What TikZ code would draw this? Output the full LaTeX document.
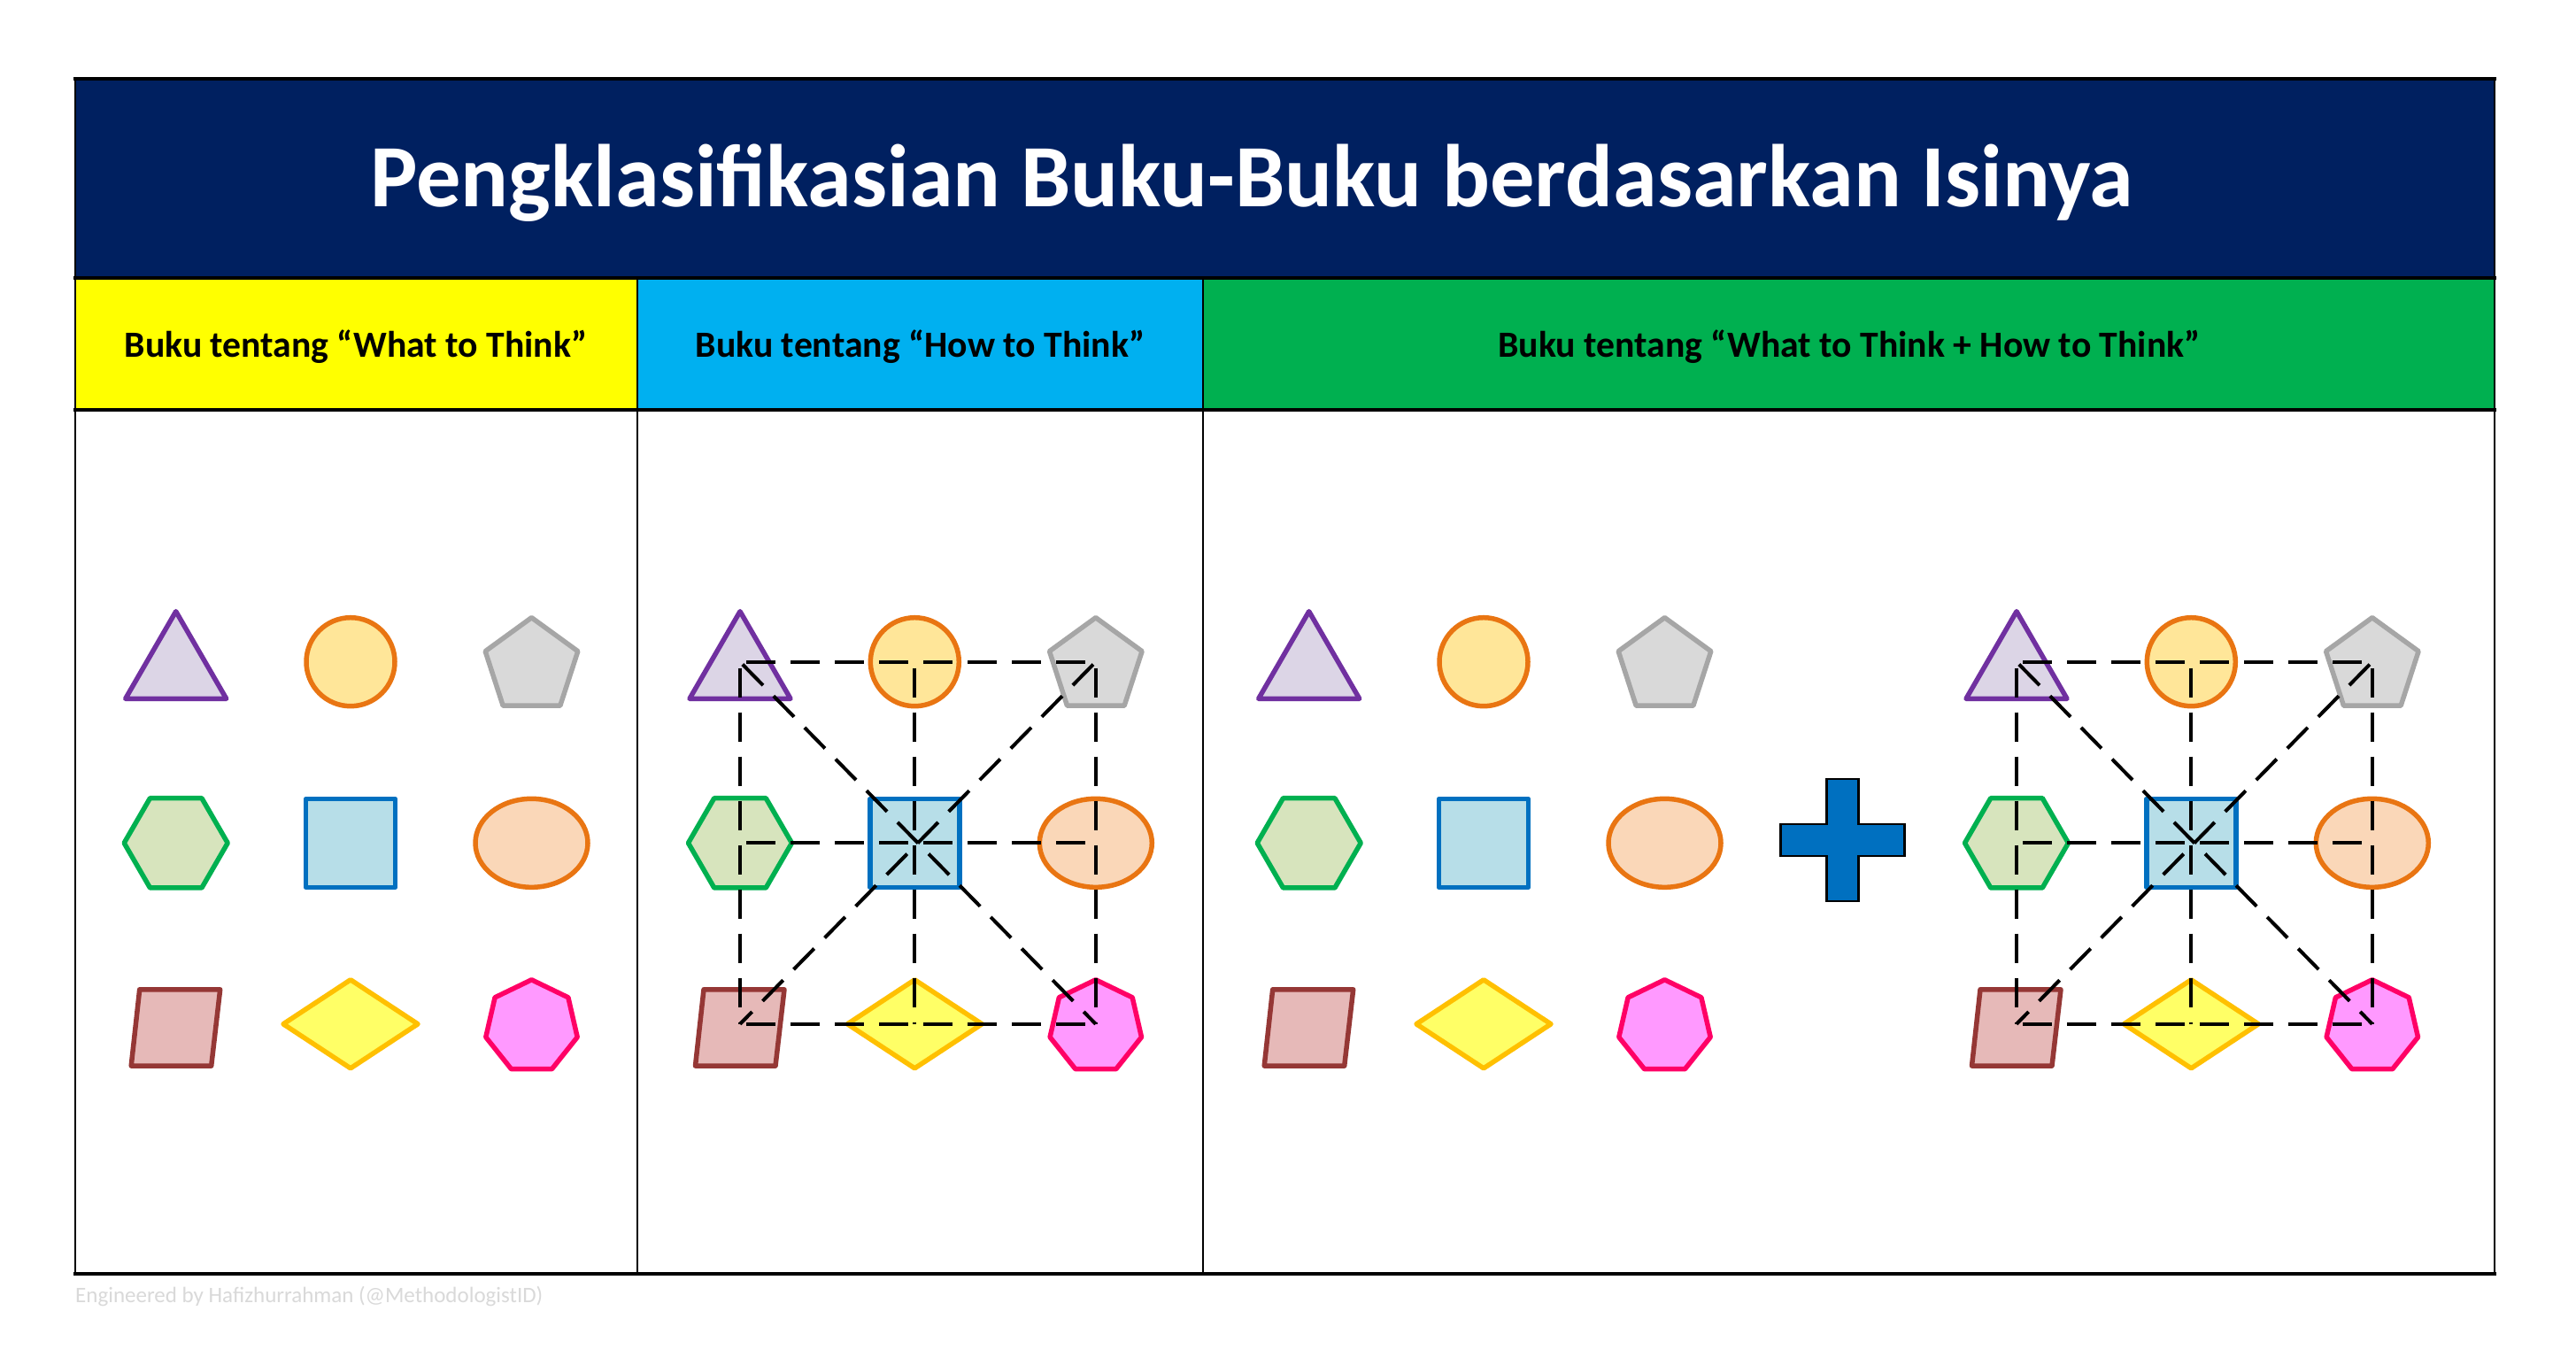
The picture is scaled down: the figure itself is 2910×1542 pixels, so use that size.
\documentclass[tikz,border=0pt]{standalone}
\usepackage{fontspec}
\setmainfont{Carlito}
\usetikzlibrary{calc}
\definecolor{navy}{HTML}{002060}
\definecolor{hyellow}{HTML}{FFFF00}
\definecolor{hblue}{HTML}{00B0F0}
\definecolor{hgreen}{HTML}{00B050}
\definecolor{triD}{HTML}{7030A0}
\definecolor{triF}{HTML}{DCD5E6}
\definecolor{cirD}{HTML}{E97512}
\definecolor{cirF}{HTML}{FFE699}
\definecolor{penD}{HTML}{A6A6A6}
\definecolor{penF}{HTML}{D9D9D9}
\definecolor{hexD}{HTML}{00B050}
\definecolor{hexF}{HTML}{D7E4BD}
\definecolor{sqD}{HTML}{0070C0}
\definecolor{sqF}{HTML}{B7DEE8}
\definecolor{ellF}{HTML}{FAD7B8}
\definecolor{parD}{HTML}{953735}
\definecolor{parF}{HTML}{E6B9B8}
\definecolor{diaD}{HTML}{FFC000}
\definecolor{diaF}{HTML}{FFFF66}
\definecolor{hepD}{HTML}{FF0066}
\definecolor{hepF}{HTML}{FF99FF}
\definecolor{plusF}{HTML}{0070C0}
\definecolor{footgray}{HTML}{D9D9D9}

\newcommand{\shapeset}[2]{%
  \coordinate (#1a) at ({198.7+#2},747.7);
  \coordinate (#1b) at ({396+#2},747.7);
  \coordinate (#1c) at ({600.5+#2},747.7);
  \coordinate (#1d) at ({198.7+#2},952.3);
  \coordinate (#1e) at ({396+#2},952.3);
  \coordinate (#1f) at ({600.5+#2},952.3);
  \coordinate (#1g) at ({198.7+#2},1156.8);
  \coordinate (#1h) at ({396+#2},1156.8);
  \coordinate (#1i) at ({600.5+#2},1156.8);
  \draw[shp, draw=triD, fill=triF, shift={(#1a)}] (0,-57) -- (-57,41.6) -- (57,41.6) -- cycle;
  \draw[shp, draw=cirD, fill=cirF, shift={(#1b)}] (0,0) circle [radius=50pt];
  \draw[shp, draw=penD, fill=penF, shift={(#1c)}] (0,-50) -- (52.3,-12) -- (32.3,49.5) -- (-32.3,49.5) -- (-52.3,-12) -- cycle;
  \draw[shp, draw=hexD, fill=hexF, shift={(#1d)}] (-58.5,0) -- (-29.25,-50.6) -- (29.25,-50.6) -- (58.5,0) -- (29.25,50.6) -- (-29.25,50.6) -- cycle;
  \draw[shp, draw=sqD, fill=sqF, shift={(#1e)}] (-50.5,-50) rectangle (50.5,50);
  \draw[shp, draw=cirD, fill=ellF, shift={(#1f)}] (0,0) ellipse [x radius=63.5pt, y radius=50pt];
  \draw[shp, draw=parD, fill=parF, shift={(#1g)}] (-41,-39) -- (50,-39) -- (40,47.3) -- (-50.5,47.3) -- cycle;
  \draw[shp, draw=diaD, fill=diaF, shift={(#1h)}] (-76,0) -- (0,-50) -- (76,0) -- (0,50) -- cycle;
  \draw[shp, draw=hepD, fill=hepF, shift={(#1i)}] (0,-50) -- (41.4,-30) -- (51.7,14.8) -- (23,50.8) -- (-23,50.8) -- (-51.7,14.8) -- (-41.4,-30) -- cycle;
}
\newcommand{\linkset}[1]{%
  \draw[link, shorten <=7pt, shorten >=7pt] (#1a) -- (#1c);
  \draw[link, shorten <=7pt, shorten >=7pt] (#1d) -- (#1f);
  \draw[link, shorten <=7pt, shorten >=7pt] (#1g) -- (#1i);
  \draw[link, shorten <=7pt] (#1a) -- (#1g);
  \draw[link, shorten <=7pt] (#1b) -- (#1h);
  \draw[link, shorten <=7pt] (#1c) -- (#1i);
  \draw[link, shorten <=4pt] (#1a) -- (#1i);
  \draw[link, shorten <=4pt] (#1c) -- (#1g);
}

\begin{document}
\begin{tikzpicture}[x=1pt,y=-1pt,
  shp/.style={line width=5.5pt, line join=round},
  link/.style={draw=black, line width=4pt, dash pattern=on 33pt off 17pt},
  hdr/.style={font=\fontsize{41.7}{46}\selectfont\bfseries, anchor=base, inner sep=0pt, text=black},
  hline/.style={line width=3.5pt, line cap=rect},
  vline/.style={line width=2.2pt}]
\useasboundingbox (0,0) rectangle (2910,1542);
\fill[white] (0,0) rectangle (2910,1542);
% bands
\fill[navy] (85,89) rectangle (2818,314);
\fill[hyellow] (85,314) rectangle (720,463);
\fill[hblue] (720,314) rectangle (1359,463);
\fill[hgreen] (1359,314) rectangle (2818,463);
% grid lines
\draw[vline] (85,89) -- (85,1439) (720,314) -- (720,1439) (1359,314) -- (1359,1439) (2818,89) -- (2818,1439);
\draw[hline] (85,89) -- (2818,89) (85,314) -- (2818,314) (85,463) -- (2818,463) (85,1439) -- (2818,1439);
% texts
\node[font=\fontsize{100.5}{112}\selectfont\bfseries, text=white, anchor=base, inner sep=0pt] (title) at (1414,233) {Pengklasifikasian Buku-Buku berdasarkan Isinya};
\node[hdr] (h1) at (402,403) {Buku tentang “What to Think”};
\node[hdr] (h2) at (1039.5,403) {Buku tentang “How to Think”};
\node[hdr] (h3) at (2089,403) {Buku tentang “What to Think + How to Think”};
\node[font=\fontsize{25}{28}\selectfont, text=footgray, anchor=base west, inner sep=0pt] (foot) at (85,1471) {Engineered by Hafizhurrahman (@MethodologistID)};
% shapes
\shapeset{p}{0}
\shapeset{q}{637.3}
\shapeset{r}{1280}
\shapeset{s}{2079.3}
\linkset{q}
\linkset{s}
% plus sign
\coordinate (plus) at (2081.5,949);
\draw[fill=plusF, draw=black, line width=2.2pt, shift={(plus)}] (-18,-69) -- (18,-69) -- (18,-18) -- (70,-18) -- (70,18) -- (18,18) -- (18,69) -- (-18,69) -- (-18,18) -- (-70,18) -- (-70,-18) -- (-18,-18) -- cycle;
\end{tikzpicture}
\end{document}
